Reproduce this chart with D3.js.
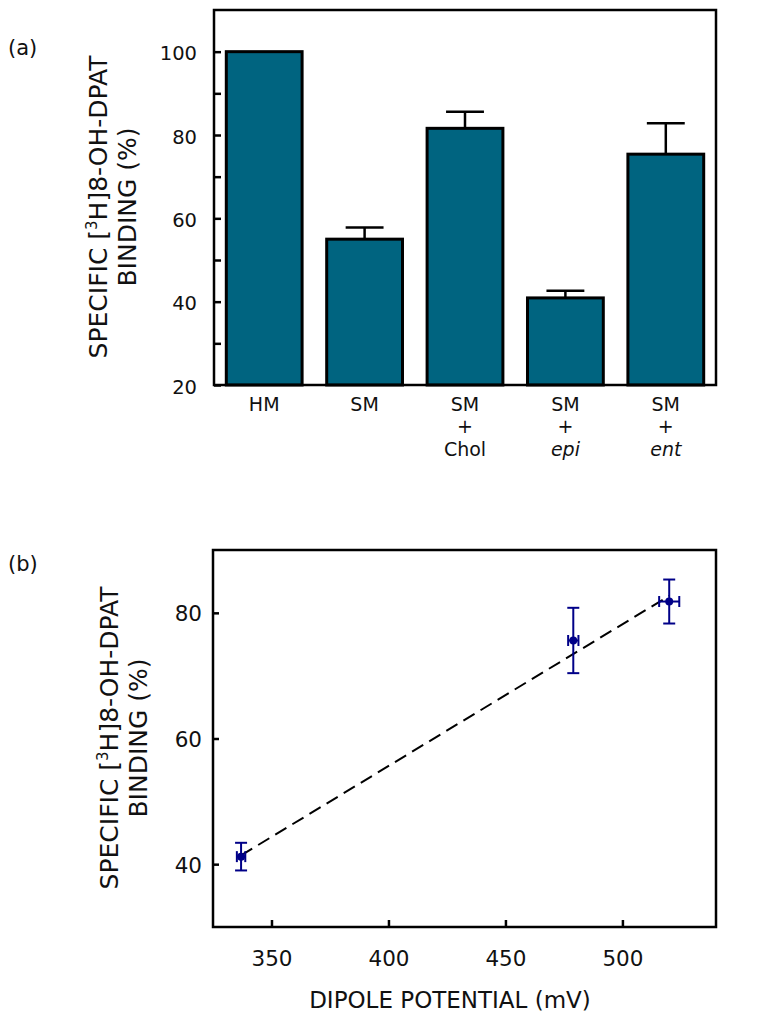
<!DOCTYPE html>
<html><head><meta charset="utf-8">
<script src="https://cdn.jsdelivr.net/npm/d3@7"></script>
<style>body{margin:0;background:#fff}svg{display:block;font-family:"DejaVu Sans",Verdana,sans-serif}</style>
</head><body>
<svg id="c" width="764" height="1024"></svg>
<script>
// Panel (a) data
const barCategories = ["HM", "SM", "SM+Chol", "SM+epi", "SM+ent"];
const barLabelLines = [["HM"], ["SM"], ["SM", "+", "Chol"], ["SM", "+", "epi"], ["SM", "+", "ent"]];
const barItalic = [false, false, false, true, true];
const barValues = [100, 55, 81.6, 40.9, 75.4];
const barErrors = [0, 2.8, 4.0, 1.7, 7.4];
const barYTicks = [20, 40, 60, 80, 100];
const barYMinorTicks = [30, 50, 70, 90];

// Panel (b) data
const dipole = [337, 479, 520];
const dipoleErr = [1.8, 2.2, 4.3];
const binding = [41.2, 75.6, 81.8];
const bindingErr = [2.2, 5.2, 3.5];
const fitLine = [[337, 41.4], [520, 82.7]];
const scatXTicks = [350, 400, 450, 500];
const scatYTicks = [40, 60, 80];

const svg = d3.select("#c");
const barColor = "#006480";
const ptColor = "#000088";

// ---------- Panel (a) ----------
const A = {l: 214, r: 716, t: 10, b: 385};
const xa = d3.scaleBand().domain(barCategories).range([A.l, A.r]).paddingInner(0.245).paddingOuter(0.1225);
const ya = d3.scaleLinear().domain([20, 110]).range([A.b, A.t]);
const ga = svg.append("g");

ga.selectAll("rect.bar").data(barValues).join("rect")
  .attr("x", (d, i) => xa(barCategories[i]))
  .attr("y", d => ya(d))
  .attr("width", xa.bandwidth())
  .attr("height", d => ya(20) - ya(d))
  .attr("fill", barColor).attr("stroke", "#000").attr("stroke-width", 3);

barValues.forEach((v, i) => {
  if (!barErrors[i]) return;
  const cx = xa(barCategories[i]) + xa.bandwidth() / 2;
  const hw = xa.bandwidth() / 4;
  ga.append("line").attr("x1", cx).attr("x2", cx).attr("y1", ya(v)).attr("y2", ya(v + barErrors[i]))
    .attr("stroke", "#000").attr("stroke-width", 2.5);
  ga.append("line").attr("x1", cx - hw).attr("x2", cx + hw).attr("y1", ya(v + barErrors[i])).attr("y2", ya(v + barErrors[i]))
    .attr("stroke", "#000").attr("stroke-width", 2.5);
});

ga.append("rect").attr("x", A.l).attr("y", A.t).attr("width", A.r - A.l).attr("height", A.b - A.t)
  .attr("fill", "none").attr("stroke", "#000").attr("stroke-width", 2.5);

const yAxA = ga.append("g").attr("transform", `translate(${A.l},0)`)
  .call(d3.axisLeft(ya).tickValues(barYTicks).tickSizeInner(-7).tickSizeOuter(0).tickPadding(17));
yAxA.select(".domain").remove();
yAxA.selectAll(".tick line").attr("stroke-width", 2.5);
yAxA.selectAll(".tick text").attr("font-size", 19.5).attr("font-family", "DejaVu Sans, Verdana, sans-serif").attr("dy", "0.42em").attr("fill", "#111");
const yAxAm = ga.append("g").attr("transform", `translate(${A.l},0)`)
  .call(d3.axisLeft(ya).tickValues(barYMinorTicks).tickSizeInner(-7).tickSizeOuter(0).tickFormat(""));
yAxAm.select(".domain").remove();
yAxAm.selectAll(".tick line").attr("stroke-width", 2.5);

// category labels: one text element per category, lines as tspans
barLabelLines.forEach((lines, i) => {
  const cx = xa(barCategories[i]) + xa.bandwidth() / 2;
  const t = ga.append("text").attr("x", cx).attr("y", 411).attr("text-anchor", "middle")
    .attr("font-size", 19).attr("fill", "#111");
  lines.forEach((s, j) => {
    t.append("tspan").attr("x", cx).attr("dy", j === 0 ? 0 : 22.3)
      .attr("font-style", (j === 2 && barItalic[i]) ? "italic" : "normal").text(s);
  });
});

function yTitle(g, cx1, cx2, cy, size) {
  const t1 = g.append("text").attr("transform", `translate(${cx1},${cy}) rotate(-90)`)
    .attr("text-anchor", "middle").attr("font-size", size).attr("fill", "#111");
  t1.append("tspan").text("SPECIFIC [");
  t1.append("tspan").attr("font-size", size * 0.6).attr("dy", -size * 0.42).text("3");
  t1.append("tspan").attr("dy", size * 0.42).text("H]8-OH-DPAT");
  g.append("text").attr("transform", `translate(${cx2},${cy}) rotate(-90)`)
    .attr("text-anchor", "middle").attr("font-size", size).attr("fill", "#111").text("BINDING (%)");
}
yTitle(ga, 107, 136, 207, 25);
ga.append("text").attr("x", 8).attr("y", 55).attr("font-size", 21).attr("fill", "#111").text("(a)");

// ---------- Panel (b) ----------
const B = {l: 213, r: 716, t: 550, b: 927};
const xb = d3.scaleLinear().domain([325, 540]).range([B.l, B.r]);
const yb = d3.scaleLinear().domain([30, 90]).range([B.b, B.t]);
const gb = svg.append("g");

gb.append("rect").attr("x", B.l).attr("y", B.t).attr("width", B.r - B.l).attr("height", B.b - B.t)
  .attr("fill", "none").attr("stroke", "#000").attr("stroke-width", 2.5);

const xAxB = gb.append("g").attr("transform", `translate(0,${B.b})`)
  .call(d3.axisBottom(xb).tickValues(scatXTicks).tickSizeInner(-7).tickSizeOuter(0).tickPadding(24));
xAxB.select(".domain").remove();
xAxB.selectAll(".tick line").attr("stroke-width", 2.5);
xAxB.selectAll(".tick text").attr("font-size", 21.5).attr("font-family", "DejaVu Sans, Verdana, sans-serif").attr("fill", "#111");

const yAxB = gb.append("g").attr("transform", `translate(${B.l},0)`)
  .call(d3.axisLeft(yb).tickValues(scatYTicks).tickSizeInner(-6).tickSizeOuter(0).tickPadding(11));
yAxB.select(".domain").remove();
yAxB.selectAll(".tick line").attr("stroke-width", 2.5);
yAxB.selectAll(".tick text").attr("font-size", 21.5).attr("font-family", "DejaVu Sans, Verdana, sans-serif").attr("dy", "0.37em").attr("fill", "#111");

gb.append("path").datum(fitLine)
  .attr("d", d3.line().x(d => xb(d[0])).y(d => yb(d[1])))
  .attr("stroke", "#000").attr("stroke-width", 2).attr("stroke-dasharray", "13,7").attr("fill", "none");

dipole.forEach((x, i) => {
  const px = xb(x), py = yb(binding[i]);
  const y1 = yb(binding[i] + bindingErr[i]), y2 = yb(binding[i] - bindingErr[i]);
  const x1 = xb(x - dipoleErr[i]), x2 = xb(x + dipoleErr[i]);
  const st = s => s.attr("stroke", ptColor).attr("stroke-width", 2);
  st(gb.append("line").attr("x1", px).attr("x2", px).attr("y1", y1).attr("y2", y2));
  st(gb.append("line").attr("x1", px - 6).attr("x2", px + 6).attr("y1", y1).attr("y2", y1));
  st(gb.append("line").attr("x1", px - 6).attr("x2", px + 6).attr("y1", y2).attr("y2", y2));
  st(gb.append("line").attr("x1", x1).attr("x2", x2).attr("y1", py).attr("y2", py));
  st(gb.append("line").attr("x1", x1).attr("x2", x1).attr("y1", py - 5.5).attr("y2", py + 5.5));
  st(gb.append("line").attr("x1", x2).attr("x2", x2).attr("y1", py - 5.5).attr("y2", py + 5.5));
});
gb.selectAll("circle.pt").data(dipole).join("circle")
  .attr("cx", d => xb(d)).attr("cy", (d, i) => yb(binding[i])).attr("r", 4).attr("fill", ptColor);

gb.append("text").attr("x", 450).attr("y", 1008).attr("text-anchor", "middle").attr("font-size", 23).attr("fill", "#111")
  .text("DIPOLE POTENTIAL (mV)");
yTitle(gb, 118, 147, 738, 25);
gb.append("text").attr("x", 8).attr("y", 571).attr("font-size", 21).attr("fill", "#111").text("(b)");
</script>
</body></html>
